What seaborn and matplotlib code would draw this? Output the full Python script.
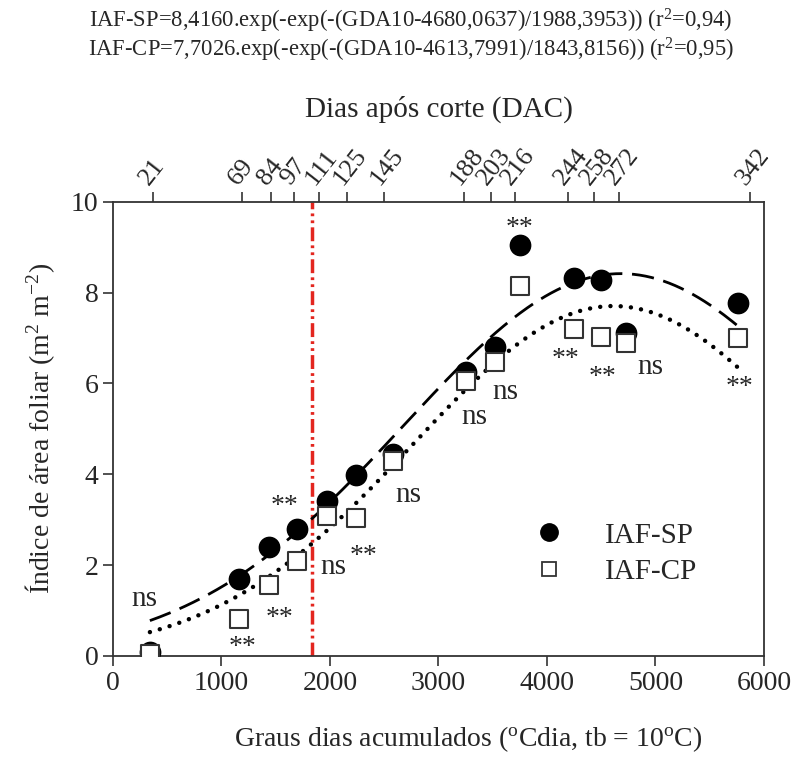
import numpy as np
import pandas as pd
import matplotlib
matplotlib.use("Agg")
import matplotlib.pyplot as plt
import seaborn as sns
from matplotlib.lines import Line2D

# accumulated degree days (x) and leaf area index per treatment
gda = [341, 1161, 1438, 1696, 1972, 2240, 2580, 3250, 3520, 3751, 4249, 4498, 4728, 5760]
iaf_sp = [0.08, 1.69, 2.39, 2.79, 3.42, 3.99, 4.45, 6.25, 6.80, 9.04, 8.33, 8.27, 7.10, 7.78]
iaf_cp = [0.05, 0.81, 1.56, 2.10, 3.09, 3.03, 4.30, 6.05, 6.48, 8.14, 7.19, 7.02, 6.89, 7.00]

# top axis: days after cut
dac_ticks = [370, 1189, 1456, 1668, 1899, 2157, 2498, 3234, 3484, 3705, 4194, 4433, 4663, 5870]
dac_labels = ["21", "69", "84", "97", "111", "125", "145", "188", "203", "216", "244", "258", "272", "342"]

# fitted curve parameters (as printed on the figure)
sp_fit = (8.4160, 4680.0637, 1988.3953)
cp_fit = (7.7026, 4613.7991, 1843.8156)
cut_gda = 1831

# significance labels: (x, y, text)
sig_labels = [
    (290, 1.25, "ns"), (1190, 0.30, "**"), (1540, 0.94, "**"), (1585, 3.42, "**"),
    (2030, 1.95, "ns"), (2305, 2.32, "**"), (2720, 3.55, "ns"), (3327, 5.26, "ns"),
    (3613, 5.80, "ns"), (3751, 9.52, "**"), (4175, 6.64, "**"), (4516, 6.25, "**"),
    (4949, 6.36, "ns"), (5770, 6.03, "**"),
]

sns.set_style("ticks")
plt.rcParams['font.family'] = ['Liberation Serif', 'DejaVu Serif']
plt.rcParams['mathtext.fontset'] = 'custom'
plt.rcParams['mathtext.rm'] = 'Liberation Serif'
plt.rcParams['mathtext.it'] = 'Liberation Serif:italic'

pts = pd.DataFrame({
    "GDA": gda * 2,
    "IAF": iaf_sp + iaf_cp,
    "Serie": ["IAF-SP"] * len(gda) + ["IAF-CP"] * len(gda),
})

xs = np.linspace(gda[0], gda[-1], 300)
curves = pd.DataFrame({
    "GDA": np.concatenate([xs, xs]),
    "IAF": np.concatenate([
        sp_fit[0] * np.exp(-0.5 * ((xs - sp_fit[1]) / sp_fit[2]) ** 2),
        cp_fit[0] * np.exp(-0.5 * ((xs - cp_fit[1]) / cp_fit[2]) ** 2),
    ]),
    "Serie": ["SP"] * len(xs) + ["CP"] * len(xs),
})

fig = plt.figure(figsize=(7.95, 7.61), dpi=100)
ax = fig.add_axes([0.142, 0.138, 0.819, 0.597])

sns.lineplot(data=curves[curves.Serie == "SP"], x="GDA", y="IAF", ax=ax,
             color="black", lw=2, legend=False)
ax.lines[-1].set_dashes((8, 3.5))
sns.lineplot(data=curves[curves.Serie == "CP"], x="GDA", y="IAF", ax=ax,
             color="black", lw=3.2, legend=False)
ax.lines[-1].set_linestyle((0, (0.01, 2.3)))
ax.lines[-1].set_dash_capstyle("round")

ax.axvline(cut_gda, color="#e3261f", lw=2.5, ls=(0, (4, 1.2, 0.8, 1.2, 0.8, 1.2)), zorder=1)

sns.scatterplot(data=pts[pts.Serie == "IAF-SP"], x="GDA", y="IAF", ax=ax,
                marker="o", s=210, color="black", edgecolor="black", zorder=3, legend=False)
sns.scatterplot(data=pts[pts.Serie == "IAF-CP"], x="GDA", y="IAF", ax=ax,
                marker="s", s=165, facecolor="white", edgecolor="#333333", linewidth=1.5,
                zorder=4, legend=False)

for x, y, t in sig_labels:
    if t == "ns":
        ax.text(x, y, t, ha="center", va="center", fontsize=21, zorder=5)
    else:
        ax.text(x, y - 0.12, t, ha="center", va="center", fontsize=20, zorder=5)

ax.set_xlim(0, 6000)
ax.set_ylim(0, 10)
ax.set_xticks([0, 1000, 2000, 3000, 4000, 5000, 6000])
ax.set_yticks([0, 2, 4, 6, 8, 10])
ax.tick_params(axis="both", labelsize=20, direction="out", length=7, width=1.2, color="#333333")
ax.set_xlabel(r"Graus dias acumulados ($^{\rm o}$Cdia, tb = 10$^{\rm o}$C)", fontsize=20)
ax.xaxis.set_label_coords(0.545, -0.15)
ax.set_ylabel(r"Índice de área foliar (m$^{2}$ m$^{-2}$)", fontsize=20, labelpad=10)
for s in ax.spines.values():
    s.set_linewidth(1.3)
    s.set_color("#333333")

top = ax.twiny()
top.set_xlim(ax.get_xlim())
top.set_xticks(dac_ticks)
top.set_xticklabels(dac_labels, rotation=52, ha="left", rotation_mode="anchor", fontsize=19)
top.tick_params(axis="x", direction="out", length=7, width=1.2, color="#333333", pad=2)
top.set_xlabel("Dias após corte (DAC)", fontsize=21, labelpad=20)
for s in top.spines.values():
    s.set_visible(False)

handles = [
    Line2D([], [], marker="o", ls="", color="black", markersize=12.5),
    Line2D([], [], marker="s", ls="", markerfacecolor="white", markeredgecolor="#333333",
           markeredgewidth=1.3, markersize=10.5),
]
ax.legend(handles, ["IAF-SP", "IAF-CP"], loc="center left", bbox_to_anchor=(0.585, 0.225),
          frameon=False, fontsize=21, handletextpad=0.9, labelspacing=0.35)

fig.text(0.517, 0.972, "IAF-SP=8,4160.exp(-exp(-(GDA10-4680,0637)/1988,3953)) (r$^2$=0,94)",
         ha="center", va="center", fontsize=16.3)
fig.text(0.517, 0.935, "IAF-CP=7,7026.exp(-exp(-(GDA10-4613,7991)/1843,8156)) (r$^2$=0,95)",
         ha="center", va="center", fontsize=16.3)

fig.savefig("out.png", dpi=100)
